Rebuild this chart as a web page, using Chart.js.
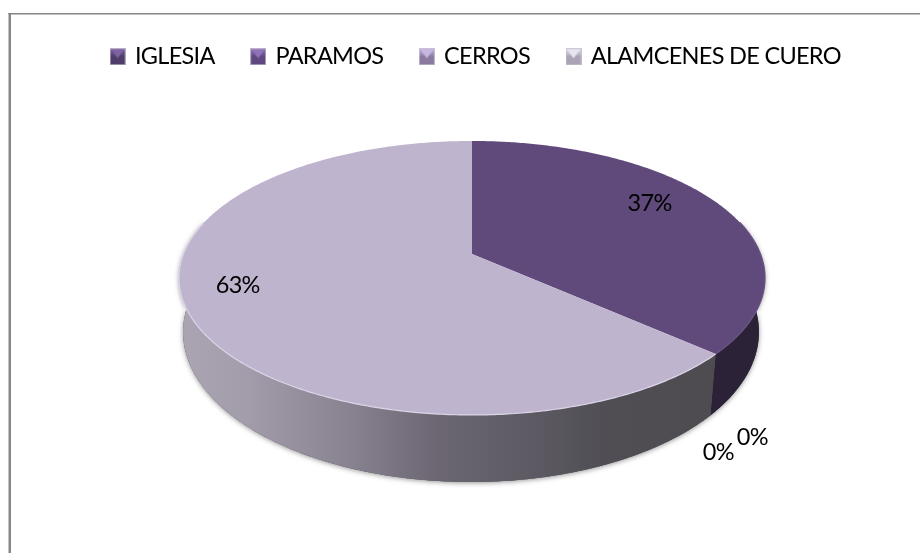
<!DOCTYPE html>
<html>
<head>
<meta charset="utf-8">
<style>
  html, body { margin: 0; padding: 0; background: #fff; }
  canvas { display: block; }
</style>
<script src="https://cdn.jsdelivr.net/npm/chart.js@4/dist/chart.umd.min.js"></script>
</head>
<body>
<canvas id="pieChart" width="920" height="553"></canvas>
<script>
const categories = ['IGLESIA', 'PARAMOS', 'CERROS', 'ALAMCENES DE CUERO'];
const shares = [36.6, 0, 0, 63.4];
const faceColors = ['#604a7b', '#6f5690', '#9482ad', '#bfb4cd'];
const rimColors = ['#6a5585', '#6f5690', '#9482ad', '#dcd5e8'];
const markerBase = ['#4f3c68', '#5f4880', '#8a7b9e', '#aaa4b6'];
const markerTip = ['#7c62a0', '#8f72b8', '#c6b6e2', '#e8e3f0'];

// perspective of the disc: top rim and bottom rim of the 3d pie
const topRim = { cx: 472, cy: 254, a: 132.8, b: 288.5, k: 0.175 };
const bottomRim = { cx: 471, cy: 305.8, a: 145.4, b: 283.5, k: 0.175 };

function project(rim, theta, r) {
    const x = Math.sin(theta) * r;
    const y = -Math.cos(theta) * r;
    const d = 1 - rim.k * y;
    return { x: rim.cx + rim.b * x / d, y: rim.cy + rim.a * y / d };
}

function sample(from, to) {
    const n = Math.max(2, Math.ceil(Math.abs(to - from) / 0.01));
    const list = [];
    for (let i = 0; i <= n; i++) list.push(from + (to - from) * i / n);
    return list;
}

function wallPath(ctx, from, to) {
    const angles = sample(from, to);
    ctx.beginPath();
    angles.forEach((t, i) => {
        const p = project(topRim, t, 1);
        if (i === 0) ctx.moveTo(p.x, p.y); else ctx.lineTo(p.x, p.y);
    });
    angles.reverse().forEach(t => {
        const p = project(bottomRim, t, 1);
        ctx.lineTo(p.x, p.y);
    });
    ctx.closePath();
}

function leftWallGradient(ctx) {
    const g = ctx.createLinearGradient(183, 0, 710, 0);
    g.addColorStop(0, '#aaa4b3');
    g.addColorStop(0.12, '#a39cab');
    g.addColorStop(0.32, '#888190');
    g.addColorStop(0.48, '#6c6773');
    g.addColorStop(0.65, '#5e5b65');
    g.addColorStop(0.8, '#504e54');
    g.addColorStop(1, '#4e4c50');
    return g;
}

// 3d look: the library gives the angles of each arc, this draws them tilted
const tiltedPie = {
    id: 'tiltedPie',
    beforeUpdate(chart) {
        // Lato is wider than the original font, so squeeze it a bit
        chart.ctx.letterSpacing = '-0.7px';
    },
    beforeDraw(chart) {
        const ctx = chart.ctx;
        ctx.save();
        ctx.fillStyle = '#c4c4c4';
        ctx.fillRect(8, 13, 1, 540);
        ctx.fillStyle = '#868686';
        ctx.fillRect(9, 13, 2, 540);
        ctx.fillRect(8, 13, 912, 1);
        ctx.fillStyle = '#c0c0c0';
        ctx.fillRect(11, 14, 909, 1);
        ctx.restore();
    },
    beforeDatasetDraw(chart, args) {
        const ctx = chart.ctx;
        const arcs = args.meta.data;
        const wallFrom = Math.PI * 0.42;
        const wallTo = Math.PI * 1.58;

        ctx.save();
        // soft shadow under the wall
        ctx.save();
        ctx.shadowColor = 'rgba(60,60,60,0.55)';
        ctx.shadowBlur = 5;
        ctx.shadowOffsetY = 1;
        ctx.fillStyle = '#555';
        wallPath(ctx, wallFrom, wallTo);
        ctx.fill();
        ctx.restore();

        arcs.forEach((arc, i) => {
            if (shares[i] === 0) return;
            const from = Math.max(arc.startAngle + Math.PI / 2, wallFrom);
            const to = Math.min(arc.endAngle + Math.PI / 2, wallTo);
            if (to <= from) return;
            wallPath(ctx, from, to);
            ctx.fillStyle = i === 0 ? '#2b2238' : leftWallGradient(ctx);
            ctx.fill();
        });

        arcs.forEach((arc, i) => {
            if (shares[i] === 0) return;
            const angles = sample(arc.startAngle + Math.PI / 2, arc.endAngle + Math.PI / 2);
            const centre = project(topRim, 0, 0);
            ctx.beginPath();
            ctx.moveTo(centre.x, centre.y);
            angles.forEach(t => {
                const p = project(topRim, t, 1);
                ctx.lineTo(p.x, p.y);
            });
            ctx.closePath();
            ctx.fillStyle = faceColors[i];
            ctx.fill();

            // light edge along the front of the disc
            const front = angles.filter(t => t > wallFrom && t < wallTo);
            if (front.length > 1) {
                ctx.beginPath();
                front.forEach((t, n) => {
                    const p = project(topRim, t, 1);
                    if (n === 0) ctx.moveTo(p.x, p.y); else ctx.lineTo(p.x, p.y);
                });
                ctx.strokeStyle = rimColors[i];
                ctx.lineWidth = 1.2;
                ctx.stroke();
            }
        });
        ctx.restore();
        return false;
    },
    afterDatasetsDraw(chart, args, opts) {
        const ctx = chart.ctx;
        const arcs = chart.getDatasetMeta(0).data;
        ctx.save();
        ctx.fillStyle = '#000';
        ctx.font = opts.font;
        ctx.textAlign = 'center';
        ctx.textBaseline = 'middle';
        arcs.forEach((arc, i) => {
            const mid = (arc.startAngle + arc.endAngle) / 2 + Math.PI / 2;
            const spot = opts.spots[i];
            const p = project(shares[i] === 0 ? bottomRim : topRim, mid, spot.r);
            ctx.fillText(Math.round(shares[i]) + '%', p.x + spot.dx, p.y + spot.dy);
        });
        ctx.restore();
    }
};

function legendMarker(i) {
    const c = document.createElement('canvas');
    c.width = 16;
    c.height = 17;
    const g = c.getContext('2d');
    const fill = g.createLinearGradient(0, 0, 0, 17);
    fill.addColorStop(0, markerTip[i]);
    fill.addColorStop(0.5, markerBase[i]);
    fill.addColorStop(1, markerBase[i]);
    g.fillStyle = fill;
    g.fillRect(0, 0, 16, 17);
    g.fillStyle = markerTip[i];
    g.beginPath();
    g.moveTo(1, 1);
    g.lineTo(15, 1);
    g.lineTo(8, 10);
    g.closePath();
    g.fill();
    g.strokeStyle = 'rgba(200,195,210,0.8)';
    g.strokeRect(0.5, 0.5, 15, 16);
    return c;
}

const pieChart = new Chart(document.getElementById('pieChart').getContext('2d'), {
    type: 'pie',
    data: {
        labels: categories,
        datasets: [{
            data: shares,
            backgroundColor: faceColors,
            borderWidth: 0
        }]
    },
    options: {
        responsive: false,
        animation: false,
        layout: { padding: { top: 7, left: 33 } },
        plugins: {
            tooltip: { enabled: false },
            legend: {
                position: 'top',
                onClick: null,
                labels: {
                    color: '#000',
                    font: { family: 'Lato', size: 23.5 },
                    usePointStyle: true,
                    pointStyleWidth: 11,
                    boxHeight: 17,
                    padding: 38,
                    generateLabels: () => categories.map((name, i) => ({
                        text: name,
                        pointStyle: legendMarker(i),
                        fontColor: '#000',
                        hidden: false,
                        index: i
                    }))
                }
            },
            tiltedPie: {
                font: '23.5px Lato',
                spots: [
                    { r: 0.7, dx: 2, dy: -14 },
                    { r: 1, dx: 42, dy: 22 },
                    { r: 1, dx: 8, dy: 37 },
                    { r: 0.85, dx: 4, dy: -18 }
                ]
            }
        }
    },
    plugins: [tiltedPie]
});
</script>
</body>
</html>
